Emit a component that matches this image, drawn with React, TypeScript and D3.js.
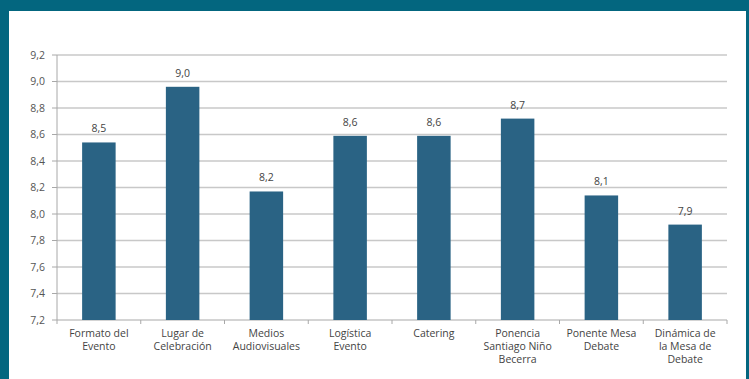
import React from "react";
import * as d3 from "d3";

const categories: string[][] = [
  ["Formato del", "Evento"],
  ["Lugar de", "Celebración"],
  ["Medios", "Audiovisuales"],
  ["Logística", "Evento"],
  ["Catering"],
  ["Ponencia", "Santiago Niño", "Becerra"],
  ["Ponente Mesa", "Debate"],
  ["Dinámica de", "la Mesa de", "Debate"],
];
const values: number[] = [8.54, 8.96, 8.17, 8.59, 8.59, 8.72, 8.14, 7.92];
const valueLabels: string[] = ["8,5", "9,0", "8,2", "8,6", "8,6", "8,7", "8,1", "7,9"];
const yTicks: number[] = [7.2, 7.4, 7.6, 7.8, 8.0, 8.2, 8.4, 8.6, 8.8, 9.0, 9.2];

const W = 749;
const H = 379;
const FONT = "'Open Sans', 'DejaVu Sans', sans-serif";

export default function App() {
  const left = 57;
  const right = 727;
  const top = 55;
  const bottom = 320;

  const x = d3
    .scaleBand<number>()
    .domain(d3.range(categories.length))
    .range([left, right])
    .paddingInner(0.6)
    .paddingOuter(0.3);
  const xb = d3.scaleBand<number>().domain(d3.range(categories.length)).range([left, right]);
  const y = d3.scaleLinear().domain([7.2, 9.2]).range([bottom, top]);
  const fmt = (v: number) => v.toFixed(1).replace(".", ",");

  return (
    <div style={{ position: "fixed", left: 0, top: 0, width: W, height: H }}>
      <svg width={W} height={H} style={{ display: "block" }}>
        <rect x={0} y={0} width={W} height={H} fill="#03667f" />
        <rect x={9} y={11} width={737} height={H - 11} fill="#ffffff" />
        {yTicks.map((t) => (
          <g key={t}>
            {t > 7.2 && (
              <line x1={left} x2={right} y1={y(t)} y2={y(t)} stroke="#c8c8c8" strokeWidth={1.5} />
            )}
            <line x1={left - 5} x2={left} y1={y(t)} y2={y(t)} stroke="#a8a8a8" strokeWidth={1} />
            <text
              x={45}
              y={y(t)}
              dy="0.35em"
              textAnchor="end"
              fontFamily={FONT}
              fontSize={10.5}
              fill="#555"
            >
              {fmt(t)}
            </text>
          </g>
        ))}
        <line x1={left} x2={left} y1={top} y2={bottom} stroke="#a8a8a8" strokeWidth={1} />
        <line x1={left} x2={right} y1={bottom} y2={bottom} stroke="#a8a8a8" strokeWidth={1} />
        {d3.range(categories.length + 1).map((i) => {
          const xx = i < categories.length ? (xb(i) as number) : right;
          return <line key={i} x1={xx} x2={xx} y1={bottom} y2={bottom + 4} stroke="#a8a8a8" />;
        })}
        {values.map((v, i) => (
          <g key={i}>
            <rect
              x={x(i)}
              y={y(v)}
              width={x.bandwidth()}
              height={bottom - y(v)}
              fill="#2a6384"
            />
            <text
              x={(x(i) as number) + x.bandwidth() / 2}
              y={y(v) - 10}
              textAnchor="middle"
              fontFamily={FONT}
              fontSize={10.5}
              fill="#444"
            >
              {valueLabels[i]}
            </text>
          </g>
        ))}
        {categories.map((lines, i) => (
          <text
            key={i}
            x={(xb(i) as number) + xb.bandwidth() / 2}
            y={337}
            textAnchor="middle"
            fontFamily={FONT}
            fontSize={10.5}
            fill="#444"
          >
            {lines.map((l, j) => (
              <tspan key={j} x={(xb(i) as number) + xb.bandwidth() / 2} dy={j === 0 ? 0 : 13}>
                {l}
              </tspan>
            ))}
          </text>
        ))}
      </svg>
    </div>
  );
}
